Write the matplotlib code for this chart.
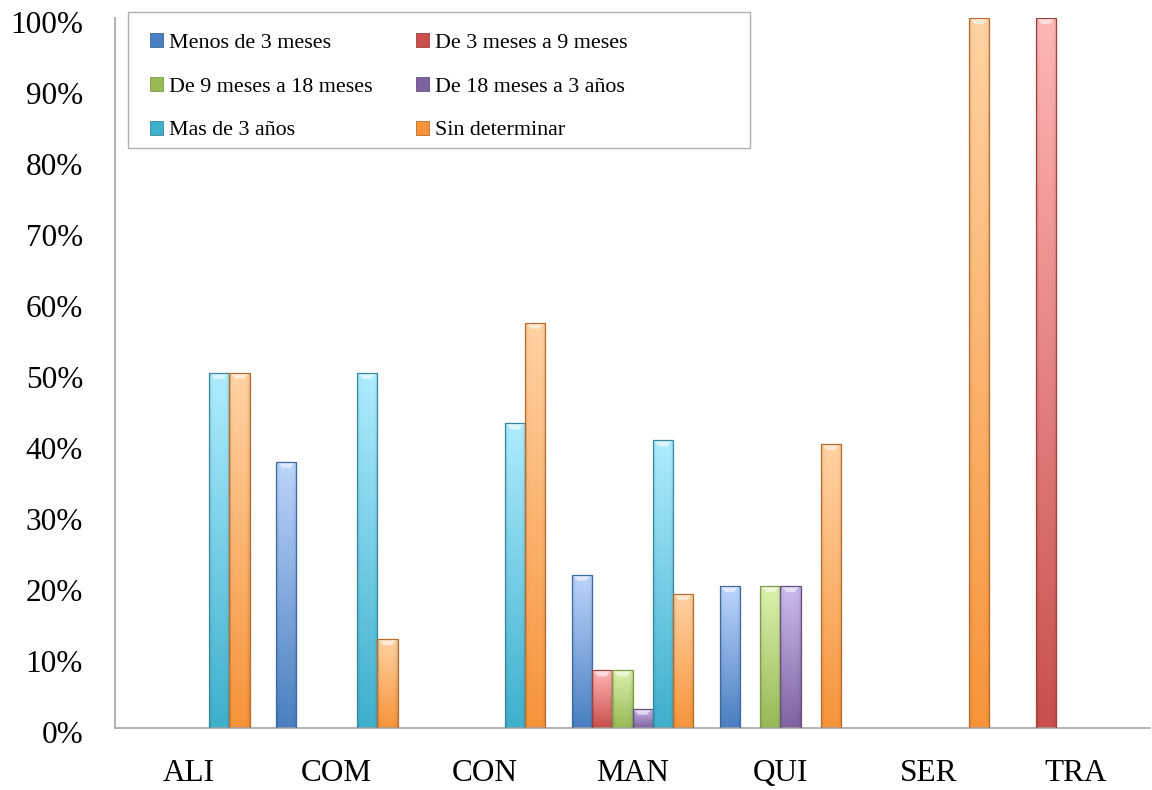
import numpy as np
import matplotlib
matplotlib.use("Agg")
import matplotlib.pyplot as plt
import matplotlib.transforms as mtransforms
from matplotlib.colors import to_rgb
from matplotlib.patches import Polygon, Rectangle, Patch
from matplotlib.ticker import PercentFormatter

# Datos (porcentaje por sector)
categorias = ["ALI", "COM", "CON", "MAN", "QUI", "SER", "TRA"]
series = ["Menos de 3 meses", "De 3 meses a 9 meses", "De 9 meses a 18 meses",
          "De 18 meses a 3 años", "Mas de 3 años", "Sin determinar"]

menos_3m = [0, 37.5, 0, 21.6, 20, 0, 0]
de_3m_9m = [0, 0, 0, 8.1, 0, 0, 100]
de_9m_18m = [0, 0, 0, 8.1, 20, 0, 0]
de_18m_3a = [0, 0, 0, 2.7, 20, 0, 0]
mas_3a = [50, 50, 42.9, 40.5, 0, 0, 0]
sin_det = [50, 12.5, 57.1, 18.9, 40, 100, 0]

valores = [menos_3m, de_3m_9m, de_9m_18m, de_18m_3a, mas_3a, sin_det]

# colores: (claro arriba, oscuro abajo, borde)
colores = [
    ("#bcd5fb", "#4a7fc1", "#3d6a9e"),
    ("#ffb6b6", "#c9504c", "#9e3f3c"),
    ("#dbf2ad", "#98b955", "#7d9a45"),
    ("#cdbbee", "#7e63a0", "#64507f"),
    ("#aeecff", "#3eb0cc", "#35899e"),
    ("#ffd2a2", "#f7943a", "#b86c2a"),
]

plt.rcParams['font.family'] = ['Liberation Serif', 'DejaVu Serif']

W, H = 1152, 790
fig = plt.figure(figsize=(W / 100, H / 100), dpi=100)
ax = fig.add_axes([115 / W, 62 / H, 1035 / W, 710 / H])

ancho = 0.137
x = np.arange(len(categorias))
px_x = 1 / 148.0
px_y = 100 / 710.0


def pintar_barra(ax, barra, claro, oscuro):
    x0 = barra.get_x()
    w = barra.get_width()
    h = barra.get_height()
    t = np.linspace(0, 1, 64)[:, None]
    c1 = np.array(to_rgb(claro))
    c2 = np.array(to_rgb(oscuro))
    vert = c1 + (c2 - c1) * t
    s = np.linspace(-1, 1, 32)
    lateral = 1 - 0.12 * s ** 6
    img = np.clip(vert[:, None, :] * lateral[None, :, None], 0, 1)
    im = ax.imshow(img, extent=(x0, x0 + w, 0, h), origin='upper',
                   aspect='auto', interpolation='bilinear', zorder=2)
    im.set_clip_path(barra)
    # bisel superior
    bisel = Polygon([(x0 + px_x, h), (x0 + w - px_x, h),
                     (x0 + w - 6 * px_x, h - 6 * px_y), (x0 + 6 * px_x, h - 6 * px_y)],
                    closed=True, facecolor="white", alpha=0.55, edgecolor="none", zorder=3)
    ax.add_patch(bisel)


for k, (vals, (claro, oscuro, borde)) in enumerate(zip(valores, colores)):
    vals = np.array(vals, dtype=float)
    mask = vals > 0
    barras = ax.bar(x[mask] + (k - 2.5) * ancho, vals[mask], width=ancho,
                    facecolor="none", edgecolor=borde, linewidth=0.9, zorder=4)
    for b in barras:
        pintar_barra(ax, b, claro, oscuro)

ax.set_xlim(-0.5, len(categorias) - 0.5)
ax.set_ylim(0, 100)
ax.set_yticks(np.arange(0, 101, 10))
ax.yaxis.set_major_formatter(PercentFormatter(100, decimals=0))
ax.set_xticks(x)
ax.set_xticklabels(categorias)
ax.tick_params(length=0, labelsize=22.5)
ax.tick_params(axis='y', pad=23)
ax.tick_params(axis='x', pad=22)
# etiquetas del eje y un poco más abajo
bajar = mtransforms.ScaledTranslation(0, -4 / 100, fig.dpi_scale_trans)
for etiqueta in ax.get_yticklabels():
    etiqueta.set_transform(etiqueta.get_transform() + bajar)

for lado in ["top", "right"]:
    ax.spines[lado].set_visible(False)
for lado in ["left", "bottom"]:
    ax.spines[lado].set_color("#a6a6a6")
    ax.spines[lado].set_linewidth(1.2)

# leyenda con recuadro propio
fig.patches.append(Rectangle((128 / W, 1 - 148 / H), (750 - 128) / W, (148 - 12) / H,
                             transform=fig.transFigure, facecolor="white",
                             edgecolor="#b0b0b0", linewidth=1, zorder=4))
manejadores = [Patch(facecolor=c[1], edgecolor=c[2], linewidth=0.6) for c in colores]
orden = [0, 2, 4, 1, 3, 5]
fig.legend([manejadores[i] for i in orden], [series[i] for i in orden], ncol=2,
           loc='upper left', bbox_to_anchor=(150 / W, 1 - 33 / H),
           frameon=False, fontsize=15.8, handlelength=0.6, handleheight=0.6,
           handletextpad=0.25, columnspacing=2.0, labelspacing=1.1,
           borderpad=0, borderaxespad=0)

fig.savefig("out.png", dpi=100)
